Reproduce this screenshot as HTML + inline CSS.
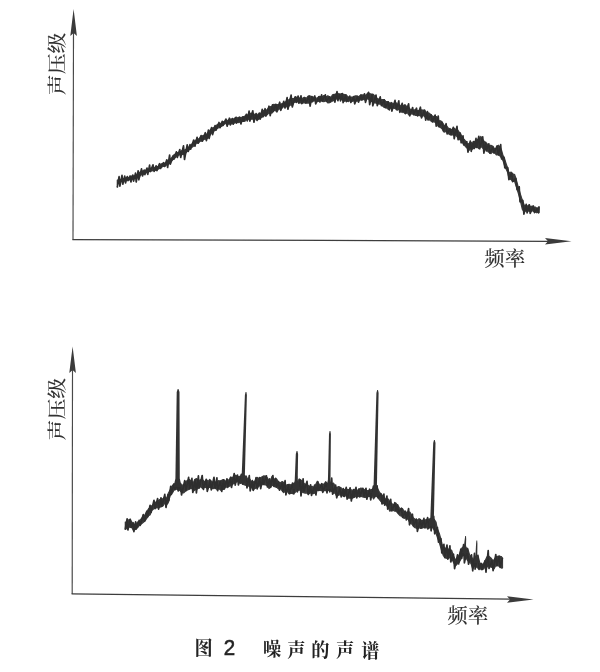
<!DOCTYPE html>
<html lang="zh-CN">
<head>
<meta charset="utf-8">
<title>图 2 噪声的声谱</title>
<style>
html,body{margin:0;padding:0;background:#fff;}
body{width:600px;height:672px;overflow:hidden;position:relative;font-family:"Liberation Serif","Noto Serif CJK SC",serif;}
svg{position:absolute;left:0;top:0;display:block;}
.ax{stroke:#3c3c3c;stroke-width:1.25;fill:none;}
.ay{stroke:#484848;stroke-width:1.15;fill:none;}
.ah{fill:#3a3a3a;stroke:none;}
.cv{stroke:#2e2e2e;stroke-width:1.7;fill:none;stroke-linejoin:round;stroke-linecap:round;}
.cb{stroke:#3a3a3a;stroke-width:1.2;fill:#3a3a3a;stroke-linejoin:round;}
.sp{fill:#333;stroke:none;}
.lb{font-family:"Liberation Serif","Noto Serif CJK SC",serif;font-size:20px;fill:#333;font-weight:500;}
.lv{font-size:18.8px;}
.cap{font-family:"Liberation Serif","Noto Serif CJK SC",serif;font-size:18.2px;fill:#222;font-weight:700;}
.num{font-family:"Liberation Sans",sans-serif;font-size:20.5px;fill:#222;font-weight:400;stroke:#222;stroke-width:0.5;}
</style>
</head>
<body>
<svg width="600" height="672" viewBox="0 0 600 672" role="img" aria-label="图 2 噪声的声谱">
<defs><filter id="b" x="-5%" y="-5%" width="110%" height="110%"><feGaussianBlur stdDeviation="0.4"/></filter></defs>
<g filter="url(#b)">
<!-- top chart -->
<path class="ay" d="M73.5,30 L73,239.5"/>
<path class="ax" d="M72.4,239.5 L548,241.3"/>
<path class="ah" d="M73.6,9 L76.9,36 L73.6,33 L70.3,36 Z"/>
<path class="ah" d="M571.5,241.2 L545,238 L548,241.2 L545,244.4 Z"/>
<path class="cb" d="M117.3,180.2 L119.7,179.9 L121.5,178.9 L123.1,178.7 L125.5,177.8 L127.3,177.5 L129.7,177.6 L131.5,176.2 L132.8,175.9 L134.4,176.2 L135.9,174.9 L137.3,174.5 L138.6,172.8 L140.7,171.8 L142.7,170.9 L145.0,170.6 L147.3,169.2 L149.1,168.9 L151.1,168.1 L152.7,168.1 L154.6,167.6 L156.7,166.7 L158.1,166.6 L159.4,164.7 L161.5,163.8 L163.5,163.2 L165.0,163.1 L167.3,161.0 L169.5,159.9 L171.6,157.8 L173.8,154.9 L175.2,154.0 L177.0,152.8 L179.3,152.0 L180.6,151.4 L182.7,150.1 L184.7,150.1 L186.9,148.7 L189.3,146.7 L190.8,145.2 L192.8,143.1 L195.1,140.6 L196.6,139.8 L198.2,139.2 L200.1,137.7 L201.9,136.1 L203.7,135.3 L205.7,135.6 L207.5,133.1 L209.8,130.5 L211.1,129.0 L212.4,128.1 L213.7,127.5 L215.4,126.5 L217.2,124.6 L218.7,124.1 L220.3,123.7 L221.9,122.4 L223.2,121.8 L224.8,121.2 L226.1,119.6 L227.5,120.7 L229.4,119.1 L231.1,119.2 L232.9,119.2 L235.2,118.1 L236.5,117.1 L237.7,118.1 L239.3,117.1 L240.9,117.5 L243.2,116.9 L245.1,116.1 L247.4,115.3 L249.0,113.2 L250.7,113.3 L252.8,113.0 L254.8,114.7 L256.0,114.4 L258.2,114.0 L260.6,113.5 L262.3,111.1 L264.6,110.1 L266.9,109.8 L268.7,107.8 L270.8,106.5 L272.2,106.1 L273.6,104.4 L275.0,104.7 L276.9,104.7 L278.5,104.6 L280.2,104.3 L281.8,103.7 L283.3,103.9 L285.5,101.9 L286.8,100.5 L288.4,100.1 L289.9,99.1 L291.8,98.5 L293.9,98.3 L296.2,97.1 L298.2,98.3 L300.3,97.9 L302.1,98.4 L304.2,97.2 L306.5,98.3 L308.0,96.2 L309.6,95.7 L311.5,96.6 L313.6,97.2 L315.6,97.7 L317.1,98.5 L319.1,96.3 L320.3,96.6 L322.0,96.7 L323.9,95.6 L326.2,96.9 L327.8,95.8 L329.7,97.0 L331.2,97.1 L332.5,94.8 L334.1,94.4 L335.5,94.1 L337.5,93.0 L339.8,94.7 L341.4,93.6 L342.6,94.0 L344.7,94.6 L346.3,94.9 L348.1,97.1 L350.1,97.1 L351.6,97.1 L353.7,97.0 L355.0,95.9 L357.2,95.9 L358.7,96.8 L360.8,94.9 L362.3,94.9 L364.5,95.3 L365.9,95.0 L368.1,92.9 L370.4,93.8 L371.7,95.6 L373.4,94.3 L375.2,96.9 L377.4,98.5 L379.6,99.5 L381.0,99.8 L382.4,99.5 L384.3,99.7 L386.0,101.6 L388.3,101.7 L390.0,103.6 L391.7,102.8 L393.1,103.5 L394.5,103.9 L395.9,102.5 L397.1,104.4 L399.3,105.0 L401.4,105.5 L403.1,105.3 L405.3,105.0 L407.4,107.3 L408.6,107.5 L410.0,108.9 L412.0,110.3 L413.4,110.0 L415.8,109.7 L417.2,110.5 L418.9,110.3 L420.8,109.9 L423.0,110.1 L424.6,110.0 L426.5,113.1 L428.9,112.9 L430.4,114.2 L432.5,116.1 L434.9,117.1 L436.6,116.5 L437.9,119.1 L439.4,120.9 L440.6,120.8 L442.3,122.2 L444.1,125.3 L446.3,125.7 L448.0,127.7 L450.4,129.8 L452.5,129.1 L453.8,128.1 L455.5,129.3 L457.8,130.2 L459.5,132.6 L460.9,134.5 L462.8,138.2 L464.4,139.6 L465.7,141.3 L467.3,144.4 L469.4,143.4 L470.9,142.2 L472.5,143.4 L474.7,141.5 L476.9,139.9 L478.8,138.9 L480.9,136.5 L483.2,140.0 L485.0,142.3 L486.6,143.2 L488.2,145.3 L489.7,145.4 L490.9,145.4 L493.0,146.4 L494.4,148.5 L496.5,148.3 L498.3,145.2 L500.1,147.2 L501.8,151.1 L503.1,155.8 L504.5,158.3 L506.1,163.6 L507.7,168.2 L509.1,173.0 L511.2,172.1 L512.7,173.7 L514.6,174.5 L516.0,178.6 L518.2,186.8 L520.3,193.9 L522.4,200.5 L524.4,205.5 L525.6,205.8 L526.9,206.3 L529.0,205.1 L530.4,206.5 L532.3,206.2 L533.7,206.9 L535.3,207.0 L536.8,208.2 L538.5,208.3 L539.0,206.5 L539.0,212.4 L538.5,212.0 L536.8,212.8 L535.3,211.9 L533.7,211.4 L532.3,210.8 L530.4,211.5 L529.0,211.1 L526.9,211.0 L525.6,210.9 L524.4,212.1 L522.4,209.5 L520.3,200.6 L518.2,192.9 L516.0,185.9 L514.6,181.3 L512.7,181.3 L511.2,179.7 L509.1,178.5 L507.7,172.6 L506.1,168.9 L504.5,165.7 L503.1,160.9 L501.8,158.3 L500.1,156.1 L498.3,154.5 L496.5,155.0 L494.4,152.4 L493.0,151.8 L490.9,153.6 L489.7,152.5 L488.2,151.9 L486.6,149.6 L485.0,148.2 L483.2,148.7 L480.9,146.4 L478.8,148.5 L476.9,146.7 L474.7,147.4 L472.5,149.2 L470.9,148.1 L469.4,150.1 L467.3,148.4 L465.7,146.8 L464.4,145.2 L462.8,143.2 L460.9,139.8 L459.5,139.6 L457.8,137.6 L455.5,134.9 L453.8,135.0 L452.5,134.7 L450.4,135.0 L448.0,133.6 L446.3,131.4 L444.1,132.1 L442.3,129.1 L440.6,127.5 L439.4,127.0 L437.9,126.1 L436.6,122.8 L434.9,122.1 L432.5,121.6 L430.4,120.6 L428.9,119.6 L426.5,118.4 L424.6,116.6 L423.0,115.2 L420.8,116.2 L418.9,115.2 L417.2,115.5 L415.8,115.5 L413.4,114.5 L412.0,113.7 L410.0,114.4 L408.6,114.8 L407.4,112.6 L405.3,113.9 L403.1,111.1 L401.4,112.2 L399.3,109.3 L397.1,110.3 L395.9,107.9 L394.5,108.4 L393.1,108.0 L391.7,108.1 L390.0,108.1 L388.3,109.4 L386.0,107.6 L384.3,107.5 L382.4,105.7 L381.0,104.1 L379.6,104.1 L377.4,103.4 L375.2,103.0 L373.4,102.7 L371.7,101.6 L370.4,100.0 L368.1,98.9 L365.9,98.8 L364.5,100.0 L362.3,99.0 L360.8,99.9 L358.7,100.3 L357.2,101.1 L355.0,100.8 L353.7,100.9 L351.6,101.5 L350.1,100.5 L348.1,101.6 L346.3,100.6 L344.7,101.3 L342.6,100.2 L341.4,99.4 L339.8,98.7 L337.5,98.3 L335.5,99.5 L334.1,100.3 L332.5,101.2 L331.2,100.7 L329.7,102.7 L327.8,102.9 L326.2,100.7 L323.9,101.6 L322.0,101.3 L320.3,100.3 L319.1,101.1 L317.1,101.7 L315.6,101.2 L313.6,100.7 L311.5,101.9 L309.6,102.8 L308.0,103.2 L306.5,102.9 L304.2,102.6 L302.1,103.1 L300.3,102.9 L298.2,101.9 L296.2,101.9 L293.9,102.3 L291.8,105.2 L289.9,104.8 L288.4,106.8 L286.8,107.0 L285.5,106.2 L283.3,106.8 L281.8,108.4 L280.2,108.8 L278.5,109.2 L276.9,112.2 L275.0,110.1 L273.6,110.9 L272.2,112.8 L270.8,113.2 L268.7,113.1 L266.9,115.0 L264.6,115.6 L262.3,116.9 L260.6,118.0 L258.2,119.6 L256.0,118.5 L254.8,119.3 L252.8,119.0 L250.7,119.2 L249.0,119.5 L247.4,119.0 L245.1,121.1 L243.2,121.4 L240.9,121.3 L239.3,122.3 L237.7,122.6 L236.5,121.5 L235.2,122.7 L232.9,123.6 L231.1,123.9 L229.4,123.7 L227.5,124.4 L226.1,123.4 L224.8,123.6 L223.2,125.3 L221.9,126.1 L220.3,126.8 L218.7,127.7 L217.2,128.4 L215.4,130.3 L213.7,130.8 L212.4,132.0 L211.1,133.6 L209.8,135.3 L207.5,138.5 L205.7,139.1 L203.7,139.3 L201.9,141.1 L200.1,141.2 L198.2,143.3 L196.6,142.8 L195.1,144.6 L192.8,146.7 L190.8,148.0 L189.3,149.6 L186.9,151.9 L184.7,154.2 L182.7,154.3 L180.6,154.9 L179.3,154.9 L177.0,155.4 L175.2,157.8 L173.8,158.7 L171.6,161.1 L169.5,163.6 L167.3,164.5 L165.0,166.1 L163.5,166.3 L161.5,167.1 L159.4,168.4 L158.1,169.1 L156.7,170.1 L154.6,170.5 L152.7,170.7 L151.1,171.1 L149.1,171.4 L147.3,172.2 L145.0,173.6 L142.7,174.4 L140.7,175.0 L138.6,177.3 L137.3,177.8 L135.9,177.9 L134.4,178.4 L132.8,178.9 L131.5,179.1 L129.7,180.0 L127.3,179.9 L125.5,180.4 L123.1,181.2 L121.5,181.5 L119.7,182.5 L117.3,184.3 Z"/>
<path class="cv" d="M117.3,187.0 L119.1,176.7 L119.9,186.2 L122.0,175.3 L122.8,184.2 L124.7,176.2 L125.5,183.0 L127.3,176.5 L128.0,180.7 L130.1,176.0 L130.9,182.0 L132.8,175.1 L133.6,181.1 L135.5,173.2 L136.2,182.0 L138.1,170.8 L138.8,179.8 L141.5,168.9 L142.5,175.9 L144.2,170.1 L144.9,174.6 L147.0,168.1 L147.8,174.3 L149.6,165.2 L150.2,171.7 L153.0,164.9 L154.1,171.4 L156.1,165.8 L156.9,170.6 L159.5,163.7 L160.5,168.5 L163.5,162.7 L164.7,166.5 L166.8,159.8 L167.6,167.5 L169.6,155.1 L170.4,164.1 L173.0,156.0 L173.9,159.2 L176.4,151.9 L177.3,157.4 L179.8,149.6 L180.7,157.5 L183.5,145.9 L184.5,159.5 L187.2,144.9 L188.3,151.4 L190.0,144.6 L190.6,149.2 L193.7,140.0 L194.9,146.2 L197.1,137.3 L198.0,143.2 L201.1,135.6 L202.4,141.1 L205.3,132.7 L206.4,140.6 L208.4,130.2 L209.1,138.5 L211.6,127.5 L212.6,134.6 L215.1,125.6 L216.0,130.2 L219.0,122.5 L220.1,127.7 L222.2,121.4 L223.0,125.5 L225.9,119.1 L227.1,126.2 L229.4,118.2 L230.3,125.0 L232.4,118.5 L233.2,124.1 L235.5,117.5 L236.4,123.1 L239.6,117.5 L240.9,123.9 L242.9,116.8 L243.7,121.2 L246.3,114.4 L247.3,120.9 L249.1,111.2 L249.9,121.1 L252.8,110.8 L253.9,122.2 L256.1,113.5 L257.0,120.5 L259.3,113.0 L260.2,119.2 L262.2,109.4 L263.0,116.7 L265.1,108.7 L265.9,116.1 L269.0,106.2 L270.2,115.6 L272.5,104.9 L273.4,111.3 L275.8,104.4 L276.8,110.8 L279.7,102.2 L280.8,110.3 L283.8,101.3 L285.0,108.0 L287.1,97.6 L287.9,109.2 L291.1,95.2 L292.3,106.9 L295.2,96.8 L296.4,102.4 L298.1,96.0 L298.8,103.2 L301.0,95.8 L301.8,103.7 L304.8,98.1 L305.9,103.1 L309.0,96.2 L310.1,106.1 L311.9,96.5 L312.5,101.7 L314.8,96.0 L315.7,104.0 L318.7,97.0 L319.9,102.0 L321.6,94.9 L322.3,100.9 L325.3,94.8 L326.4,101.3 L329.5,96.8 L330.7,101.9 L333.7,95.2 L334.9,102.2 L337.0,91.7 L337.9,100.7 L339.7,94.1 L340.5,100.8 L342.4,93.6 L343.1,102.6 L345.6,95.0 L346.5,101.6 L349.7,96.1 L350.9,102.5 L353.7,96.6 L354.7,103.9 L357.5,96.6 L358.5,102.1 L360.9,95.2 L361.9,100.2 L364.5,93.8 L365.5,102.3 L368.5,92.4 L369.7,104.6 L372.0,94.0 L372.8,105.8 L376.0,95.0 L377.3,105.6 L380.2,96.9 L381.4,105.6 L384.3,100.1 L385.4,107.7 L388.3,102.2 L389.4,109.8 L391.2,102.7 L391.9,111.1 L395.0,100.4 L396.2,109.5 L398.8,100.9 L399.8,112.3 L402.2,103.3 L403.0,112.3 L404.8,105.0 L405.4,113.2 L408.6,103.9 L409.8,115.8 L412.6,107.5 L413.7,114.7 L416.5,108.2 L417.6,116.0 L420.4,107.2 L421.5,117.9 L424.5,110.3 L425.7,120.2 L427.4,111.5 L428.0,120.0 L431.1,114.8 L432.4,121.9 L435.1,115.1 L436.2,126.2 L438.2,116.1 L439.0,126.7 L442.1,122.5 L443.4,130.8 L446.1,123.7 L447.1,134.0 L450.0,128.7 L451.2,134.6 L453.3,127.3 L454.2,138.7 L457.0,126.4 L458.1,139.7 L460.3,133.0 L461.1,142.8 L463.0,135.9 L463.7,144.9 L466.8,141.6 L468.0,152.1 L470.3,141.0 L471.2,151.3 L473.4,141.5 L474.3,148.5 L476.0,138.4 L476.6,147.5 L478.8,136.4 L479.7,148.8 L482.7,136.9 L483.9,153.1 L485.6,142.3 L486.3,150.9 L488.8,143.9 L489.8,153.2 L492.8,147.1 L494.0,153.1 L497.1,145.9 L498.3,155.0 L500.7,144.7 L501.6,159.0 L503.9,157.2 L504.8,167.8 L507.7,167.6 L508.9,179.6 L511.6,173.3 L512.6,181.6 L515.8,178.3 L517.1,189.6 L519.2,186.8 L520.0,201.8 L522.8,200.3 L523.9,214.1 L526.2,204.3 L527.1,212.8 L529.3,204.8 L530.2,213.4 L533.3,206.0 L534.5,212.6 L537.5,208.1 L538.6,212.8 L539.0,207.4"/>
<!-- bottom chart -->
<path class="ay" d="M72.5,368 L72.2,593.9"/>
<path class="ax" d="M71.6,593.9 L510,599.2"/>
<path class="ah" d="M72.6,346.5 L75.9,373 L72.6,370 L69.3,373 Z"/>
<path class="ah" d="M533.5,599.5 L507,596.3 L510,599.4 L507,602.7 Z"/>
<path class="cb" d="M125.3,522.1 L126.9,522.4 L128.3,520.0 L130.0,519.3 L132.0,522.3 L133.2,524.5 L135.6,523.9 L137.9,521.9 L139.3,521.3 L141.3,518.7 L142.8,517.0 L144.6,515.5 L146.7,511.6 L148.8,508.6 L150.1,508.2 L151.7,505.8 L152.9,504.9 L154.8,502.9 L156.5,501.6 L158.7,500.3 L160.9,499.0 L163.2,498.6 L164.6,496.8 L166.7,498.5 L168.2,493.5 L170.1,490.0 L171.5,486.9 L173.0,484.8 L174.3,484.2 L175.6,484.5 L177.8,484.6 L179.5,484.9 L181.7,484.9 L183.7,485.4 L185.7,481.6 L187.0,480.7 L189.3,479.5 L191.7,482.0 L193.3,482.7 L194.7,479.6 L196.7,478.6 L198.6,480.5 L200.4,479.8 L202.7,479.8 L204.4,481.7 L206.8,480.0 L208.1,481.5 L209.7,479.4 L211.6,481.5 L213.6,482.8 L215.3,482.1 L217.1,482.1 L218.5,480.7 L220.5,481.2 L222.5,479.8 L223.8,479.7 L225.9,481.6 L227.2,479.4 L229.3,480.4 L230.9,477.4 L233.0,477.3 L234.2,475.8 L235.7,475.2 L237.0,476.3 L238.9,476.9 L240.4,476.1 L242.0,477.4 L243.8,477.5 L246.1,475.8 L247.5,478.9 L249.6,478.9 L251.5,481.7 L253.0,482.1 L255.1,480.9 L257.3,477.4 L259.2,478.6 L261.3,477.3 L263.5,475.9 L265.7,476.1 L267.4,477.9 L269.0,480.6 L270.5,480.6 L272.0,476.4 L274.2,479.1 L276.5,478.8 L278.6,482.1 L280.1,482.9 L282.2,481.5 L283.7,482.5 L285.4,485.8 L287.4,484.5 L289.2,484.3 L291.6,485.0 L292.8,483.5 L294.7,483.0 L297.0,482.5 L299.3,478.9 L301.6,480.4 L302.8,482.1 L305.1,484.5 L306.6,483.8 L308.6,485.9 L310.5,486.9 L312.0,486.3 L313.3,487.5 L315.2,485.6 L317.3,481.2 L318.6,483.5 L320.2,485.4 L322.6,484.1 L324.1,484.0 L325.7,481.7 L327.4,483.7 L329.4,483.8 L331.6,483.5 L333.7,483.2 L334.9,485.9 L336.5,487.6 L338.8,486.5 L341.0,487.7 L342.6,489.4 L343.9,489.8 L346.0,489.1 L348.3,489.5 L350.6,489.2 L352.5,491.2 L353.9,490.2 L355.7,488.6 L357.8,490.6 L359.1,489.7 L360.9,488.0 L362.6,488.5 L364.9,489.9 L366.7,490.5 L368.9,490.5 L370.3,490.0 L372.1,489.4 L373.6,488.3 L375.5,488.7 L377.5,488.2 L379.6,492.5 L381.7,494.8 L383.5,496.3 L385.1,498.9 L386.4,499.0 L388.5,499.2 L389.8,501.9 L392.0,503.7 L394.4,505.0 L395.7,503.0 L397.2,504.8 L398.6,506.5 L400.0,509.0 L402.4,508.5 L404.0,511.1 L406.2,512.4 L408.4,512.2 L410.0,512.2 L412.0,515.7 L413.3,517.9 L415.1,519.3 L417.4,520.1 L419.1,518.6 L420.7,520.7 L422.6,520.3 L424.5,520.0 L426.4,519.5 L427.7,519.0 L429.8,519.0 L431.7,521.5 L433.0,519.0 L434.5,519.8 L436.0,522.0 L437.2,528.3 L439.3,533.4 L440.7,538.5 L442.0,543.7 L443.3,548.2 L445.1,547.8 L446.3,550.1 L448.4,548.9 L450.0,549.8 L451.6,550.1 L453.8,556.9 L455.7,560.1 L457.8,557.1 L459.2,554.9 L460.8,550.2 L462.4,547.4 L463.8,547.4 L465.9,547.9 L467.7,548.4 L469.6,554.9 L471.1,556.4 L472.8,559.2 L474.4,559.4 L476.6,555.1 L478.4,557.1 L479.8,563.1 L481.4,563.9 L483.7,564.1 L485.7,559.6 L487.0,556.7 L488.5,555.9 L490.9,557.9 L492.5,560.0 L494.1,559.9 L496.1,556.6 L497.9,556.4 L499.8,556.3 L501.4,556.7 L502.5,558.3 L502.5,568.0 L501.4,568.1 L499.8,566.8 L497.9,565.4 L496.1,565.0 L494.1,568.6 L492.5,567.4 L490.9,567.1 L488.5,565.4 L487.0,567.2 L485.7,565.8 L483.7,569.0 L481.4,569.8 L479.8,568.4 L478.4,568.6 L476.6,567.0 L474.4,565.7 L472.8,569.0 L471.1,563.8 L469.6,561.5 L467.7,560.8 L465.9,557.6 L463.8,555.6 L462.4,555.3 L460.8,559.4 L459.2,562.2 L457.8,563.4 L455.7,565.7 L453.8,563.0 L451.6,558.6 L450.0,557.2 L448.4,558.6 L446.3,558.2 L445.1,557.9 L443.3,555.5 L442.0,551.8 L440.7,547.3 L439.3,542.7 L437.2,536.8 L436.0,533.1 L434.5,530.7 L433.0,527.9 L431.7,527.0 L429.8,527.5 L427.7,529.2 L426.4,526.9 L424.5,527.3 L422.6,527.9 L420.7,528.5 L419.1,527.7 L417.4,528.5 L415.1,527.7 L413.3,526.2 L412.0,524.1 L410.0,523.0 L408.4,519.9 L406.2,517.7 L404.0,518.4 L402.4,516.3 L400.0,515.6 L398.6,514.0 L397.2,512.4 L395.7,511.0 L394.4,511.1 L392.0,509.7 L389.8,511.2 L388.5,508.1 L386.4,505.2 L385.1,504.2 L383.5,503.4 L381.7,502.5 L379.6,499.8 L377.5,497.1 L375.5,495.9 L373.6,498.9 L372.1,495.9 L370.3,496.8 L368.9,496.2 L366.7,497.1 L364.9,497.3 L362.6,497.0 L360.9,496.3 L359.1,496.7 L357.8,495.9 L355.7,496.7 L353.9,497.2 L352.5,498.2 L350.6,497.9 L348.3,498.1 L346.0,495.8 L343.9,496.5 L342.6,495.8 L341.0,494.6 L338.8,495.0 L336.5,496.1 L334.9,492.6 L333.7,493.3 L331.6,491.4 L329.4,490.4 L327.4,490.5 L325.7,490.6 L324.1,490.6 L322.6,490.9 L320.2,490.3 L318.6,490.8 L317.3,490.3 L315.2,493.0 L313.3,493.6 L312.0,492.5 L310.5,493.0 L308.6,494.0 L306.6,492.8 L305.1,493.1 L302.8,492.4 L301.6,490.4 L299.3,490.0 L297.0,490.6 L294.7,492.7 L292.8,493.7 L291.6,493.1 L289.2,493.9 L287.4,491.5 L285.4,491.0 L283.7,492.7 L282.2,490.9 L280.1,488.0 L278.6,489.0 L276.5,487.0 L274.2,486.7 L272.0,484.9 L270.5,487.6 L269.0,488.5 L267.4,485.8 L265.7,484.9 L263.5,484.7 L261.3,484.5 L259.2,486.1 L257.3,487.7 L255.1,488.3 L253.0,489.9 L251.5,487.0 L249.6,486.9 L247.5,485.0 L246.1,485.3 L243.8,484.7 L242.0,482.9 L240.4,483.5 L238.9,482.0 L237.0,481.5 L235.7,482.5 L234.2,483.4 L233.0,484.0 L230.9,485.6 L229.3,486.2 L227.2,487.7 L225.9,486.4 L223.8,489.4 L222.5,489.4 L220.5,490.2 L218.5,488.2 L217.1,489.7 L215.3,487.5 L213.6,488.6 L211.6,488.3 L209.7,487.3 L208.1,487.6 L206.8,488.0 L204.4,487.0 L202.7,488.5 L200.4,486.5 L198.6,488.1 L196.7,489.1 L194.7,490.0 L193.3,491.2 L191.7,487.9 L189.3,489.1 L187.0,490.3 L185.7,490.9 L183.7,492.9 L181.7,492.4 L179.5,490.2 L177.8,489.6 L175.6,488.9 L174.3,489.4 L173.0,492.0 L171.5,493.8 L170.1,495.9 L168.2,502.8 L166.7,504.7 L164.6,503.1 L163.2,505.7 L160.9,507.0 L158.7,507.5 L156.5,508.0 L154.8,508.0 L152.9,509.5 L151.7,510.5 L150.1,514.9 L148.8,515.4 L146.7,518.4 L144.6,521.3 L142.8,522.8 L141.3,523.9 L139.3,525.4 L137.9,527.4 L135.6,529.4 L133.2,530.2 L132.0,527.6 L130.0,527.2 L128.3,527.0 L126.9,528.7 L125.3,529.0 Z"/>
<path class="cv" d="M125.3,529.1 L127.1,518.9 L127.9,530.0 L130.3,519.3 L131.2,527.5 L133.1,522.7 L133.9,531.7 L135.6,521.9 L136.2,529.0 L139.1,520.4 L140.2,525.3 L143.3,514.5 L144.6,521.0 L146.8,511.4 L147.6,516.7 L150.1,505.3 L151.1,512.3 L154.0,500.3 L155.1,508.6 L157.6,498.5 L158.6,509.1 L161.0,497.8 L161.9,506.1 L164.8,494.4 L166.0,507.5 L168.0,494.9 L168.8,500.6 L170.7,486.4 L171.4,494.4 L174.0,483.8 L175.0,489.8 L177.3,483.4 L178.2,491.0 L180.6,483.5 L181.5,495.0 L184.7,480.7 L185.9,490.7 L188.6,477.4 L189.6,488.6 L191.9,478.4 L192.8,492.5 L195.4,479.7 L196.4,493.0 L198.4,475.9 L199.2,488.0 L202.2,475.5 L203.4,489.5 L206.2,479.3 L207.3,491.4 L210.2,480.8 L211.3,489.8 L214.0,477.3 L215.1,488.5 L216.9,477.8 L217.6,490.7 L220.5,481.1 L221.7,491.5 L223.6,479.9 L224.4,488.8 L226.9,478.9 L227.9,486.4 L230.5,477.4 L231.5,487.5 L234.2,473.5 L235.2,485.1 L237.5,475.0 L238.4,485.0 L241.4,474.3 L242.6,484.2 L245.8,477.1 L247.0,487.9 L249.3,475.7 L250.2,490.9 L252.4,480.6 L253.3,490.4 L256.1,477.5 L257.2,488.9 L259.7,477.6 L260.7,488.7 L262.8,477.8 L263.6,484.2 L266.4,475.8 L267.4,487.0 L269.7,478.9 L270.6,487.0 L272.9,475.5 L273.8,485.7 L275.6,478.4 L276.3,487.2 L278.6,481.7 L279.5,490.1 L282.0,483.2 L283.0,491.4 L285.1,480.7 L285.9,494.9 L288.5,485.2 L289.5,493.5 L292.6,483.1 L293.8,493.8 L296.4,476.5 L297.4,491.9 L300.0,480.1 L301.0,496.0 L303.1,478.9 L303.9,491.3 L307.0,481.4 L308.2,494.5 L310.6,484.8 L311.5,495.5 L314.7,485.1 L315.9,495.0 L317.9,481.8 L318.7,490.2 L321.7,483.7 L322.8,492.3 L325.8,483.1 L327.0,493.0 L328.9,479.2 L329.7,491.8 L331.7,478.2 L332.6,494.2 L335.6,485.1 L336.7,497.8 L339.9,488.1 L341.2,496.9 L343.3,488.6 L344.1,496.5 L346.2,487.4 L347.1,499.1 L350.1,487.8 L351.3,501.0 L353.3,489.7 L354.1,497.1 L356.0,487.4 L356.8,497.9 L359.0,488.9 L359.8,496.8 L362.8,488.4 L364.0,496.3 L366.0,488.3 L366.8,499.2 L369.6,489.2 L370.7,499.8 L373.5,486.0 L374.6,496.8 L377.1,485.8 L378.0,497.7 L380.9,493.7 L382.0,504.0 L383.9,494.0 L384.7,505.1 L386.9,496.1 L387.7,509.1 L390.7,499.4 L391.8,511.0 L394.8,502.7 L395.9,510.5 L397.6,504.8 L398.3,512.9 L401.4,508.2 L402.6,517.3 L405.3,511.2 L406.3,519.9 L408.6,508.5 L409.5,524.8 L412.4,514.2 L413.5,525.7 L416.3,519.1 L417.4,531.3 L420.4,519.5 L421.5,527.7 L423.9,518.4 L424.9,528.0 L427.6,517.6 L428.6,527.9 L430.4,518.7 L431.1,530.8 L433.7,516.4 L434.7,533.8 L437.4,527.5 L438.5,542.1 L440.9,538.6 L441.8,552.9 L443.9,544.4 L444.8,557.4 L447.0,545.0 L447.8,559.2 L449.9,545.8 L450.8,562.0 L453.5,554.2 L454.6,568.7 L457.5,554.9 L458.6,564.0 L460.9,549.0 L461.7,558.3 L463.6,544.7 L464.4,562.9 L467.4,549.0 L468.5,564.2 L471.5,554.9 L472.7,570.8 L474.5,553.3 L475.1,569.1 L477.9,555.4 L479.0,569.4 L481.3,563.5 L482.2,569.4 L484.9,560.9 L486.0,572.1 L488.2,550.6 L489.0,568.5 L491.9,560.7 L493.1,570.7 L495.8,554.5 L496.9,565.9 L499.1,556.1 L500.0,567.3 L502.4,558.4"/>
<path class="sp" d="M173.6,486.6 L175.4,478.6 L176.7,392.0 L177.7,389.0 L178.5,389.0 L179.5,392.0 L179.8,478.6 L181.6,486.6 Z M239.9,482.7 L241.7,474.7 L244.9,395.0 L245.6,392.0 L246.4,392.0 L246.9,395.0 L244.9,474.7 L246.7,482.7 Z M292.9,489.1 L294.7,481.1 L295.8,454.0 L296.6,451.0 L297.4,451.0 L298.1,454.0 L297.7,481.1 L299.5,489.1 Z M326.1,488.9 L327.9,480.9 L329.0,434.0 L329.6,431.0 L330.4,431.0 L330.9,434.0 L330.5,480.9 L332.3,488.9 Z M371.7,495.4 L373.5,487.4 L376.4,393.0 L377.2,390.0 L378.0,390.0 L378.6,393.0 L376.9,487.4 L378.7,495.4 Z M428.5,525.9 L430.3,517.9 L433.2,443.0 L434.0,440.0 L434.8,440.0 L435.5,443.0 L433.9,517.9 L435.7,525.9 Z M462.2,553.2 L464.0,545.2 L464.8,539.0 L465.2,536.0 L466.0,536.0 L466.2,539.0 L466.0,545.2 L467.8,553.2 Z M473.7,562.7 L475.5,554.7 L476.1,543.5 L476.4,540.5 L477.2,540.5 L477.4,543.5 L477.3,554.7 L479.1,562.7 Z"/>
<text class="lb lv" transform="translate(64.4,95.2) rotate(-90)" textLength="62.5" lengthAdjust="spacingAndGlyphs">声压级</text>
<text class="lb" transform="translate(484.3,266.4) scale(1,1.03)" textLength="41" lengthAdjust="spacingAndGlyphs">频率</text>
<text class="lb lv" transform="translate(64.4,440.4) rotate(-90)" textLength="62.5" lengthAdjust="spacingAndGlyphs">声压级</text>
<text class="lb" transform="translate(447.2,622.6) scale(1,1.03)" textLength="41" lengthAdjust="spacingAndGlyphs">频率</text>
<text class="cap" text-anchor="middle" transform="translate(0,656) scale(1,1.08)"><tspan x="203.6" y="-0.6">图</tspan><tspan class="num" x="229.4" y="-0.6">2</tspan><tspan x="272 296.4 320.4 345 370.3" y="0.2 0.5 0.9 1.2 1.5">噪声的声谱</tspan></text>
</g>
</svg>
</body>
</html>
